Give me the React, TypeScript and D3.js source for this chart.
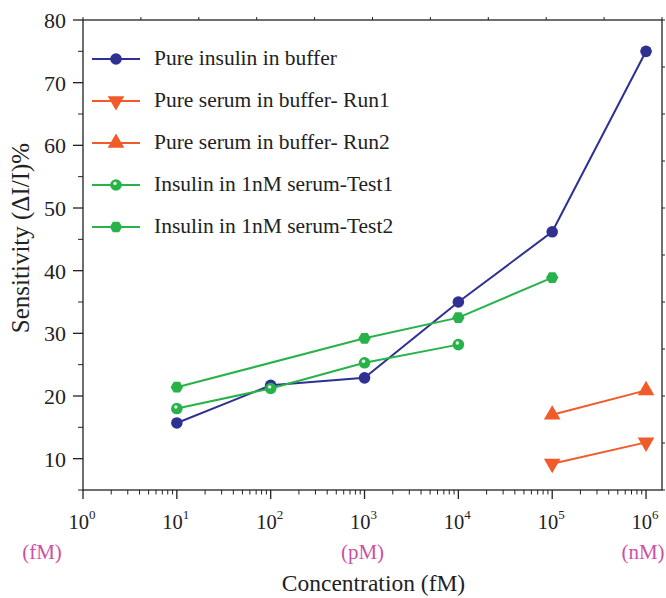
import React from 'react';
import * as d3 from 'd3';

// concentrations in fM
const concAll = [1e1, 1e2, 1e3, 1e4, 1e5, 1e6];
const insulinBuffer = [15.7, 21.7, 22.9, 35.0, 46.2, 75.0];
const serumConc = [1e5, 1e6];
const serumRun1 = [9.2, 12.6];
const serumRun2 = [17.0, 20.9];
const test1Conc = [1e1, 1e2, 1e3, 1e4];
const serumTest1 = [18.0, 21.2, 25.3, 28.2];
const test2Conc = [1e1, 1e3, 1e4, 1e5];
const serumTest2 = [21.4, 29.2, 32.5, 38.9];

const majorExp = [0, 1, 2, 3, 4, 5, 6];
const yMajor = [10, 20, 30, 40, 50, 60, 70, 80];
const unitLabels = [
  { exp: 0, text: '(fM)', shift: -41 },
  { exp: 3, text: '(pM)', shift: -2 },
  { exp: 6, text: '(nM)', shift: -3 },
];

const BLUE = '#2e3192';
const ORANGE = '#f15a29';
const GREEN = '#27b24a';
const PINK = '#cf4fa6';
const FONT = '"Liberation Serif", "Times New Roman", serif';

const W = 666;
const H = 598;
const margin = { top: 20, right: 4, bottom: 108, left: 83 };

type Kind = 'circle' | 'down' | 'up' | 'ball' | 'hex';

const series: { name: string; xs: number[]; ys: number[]; color: string; kind: Kind }[] = [
  { name: 'Pure insulin in buffer', xs: concAll, ys: insulinBuffer, color: BLUE, kind: 'circle' },
  { name: 'Pure serum in buffer- Run1', xs: serumConc, ys: serumRun1, color: ORANGE, kind: 'down' },
  { name: 'Pure serum in buffer- Run2', xs: serumConc, ys: serumRun2, color: ORANGE, kind: 'up' },
  { name: 'Insulin in 1nM serum-Test1', xs: test1Conc, ys: serumTest1, color: GREEN, kind: 'ball' },
  { name: 'Insulin in 1nM serum-Test2', xs: test2Conc, ys: serumTest2, color: GREEN, kind: 'hex' },
];

function hexPath(r: number) {
  const pts = d3.range(6).map((i) => {
    const a = (Math.PI / 3) * i;
    return [r * Math.cos(a), r * Math.sin(a)];
  });
  return 'M' + pts.map((p) => p.join(',')).join('L') + 'Z';
}

function Marker({ kind, color, x, y }: { kind: Kind; color: string; x: number; y: number }) {
  const t = `translate(${x},${y})`;
  if (kind === 'circle') return <circle cx={x} cy={y} r={5.8} fill={color} />;
  if (kind === 'down')
    return <path transform={t + ' rotate(180)'} d={d3.symbol(d3.symbolTriangle, 120)() || ''} fill={color} />;
  if (kind === 'up')
    return <path transform={t} d={d3.symbol(d3.symbolTriangle, 120)() || ''} fill={color} />;
  if (kind === 'ball')
    return (
      <g transform={t}>
        <circle r={5.8} fill={color} />
        <circle cx={-1} cy={-1.6} r={1.7} fill="#e8f7ea" />
      </g>
    );
  return <path transform={t} d={hexPath(6.2)} fill={color} />;
}

export default function App() {
  const x = d3
    .scaleLog()
    .domain([1, Math.pow(10, 6.17)])
    .range([margin.left, W - margin.right]);
  const y = d3
    .scaleLinear()
    .domain([5, 80])
    .range([H - margin.bottom, margin.top]);
  const [x0, x1] = x.range();
  const [y0, y1] = y.range();

  const minorX: number[] = [];
  majorExp.slice(0, -1).forEach((e) => {
    for (let k = 2; k <= 9; k++) minorX.push(k * Math.pow(10, e));
  });
  const minorY = d3.range(5, 80, 10);
  const frameTicks = d3.range(0, 11).map((i) => i / 10);

  const line = d3
    .line<[number, number]>()
    .x((d) => x(d[0]))
    .y((d) => y(d[1]));

  return (
    <svg width={W} height={H} style={{ position: 'absolute', left: 0, top: 0 }} fontFamily={FONT}>
      <rect width={W} height={H} fill="#fff" />
      {/* frame */}
      <rect x={x0} y={y1} width={x1 - x0} height={y0 - y1} fill="none" stroke="#222" strokeWidth={1.3} />
      {frameTicks.map((f) => (
        <line key={'t' + f} x1={x0 + f * (x1 - x0)} x2={x0 + f * (x1 - x0)} y1={y1} y2={y1 - 3} stroke="#222" />
      ))}
      {frameTicks.map((f) => (
        <line key={'r' + f} x1={x1} x2={x1 + 3} y1={y1 + f * (y0 - y1)} y2={y1 + f * (y0 - y1)} stroke="#222" />
      ))}
      {/* x axis ticks */}
      {majorExp.map((e) => (
        <g key={'xm' + e}>
          <line x1={x(Math.pow(10, e))} x2={x(Math.pow(10, e))} y1={y0} y2={y0 + 9} stroke="#222" strokeWidth={1.3} />
          <text x={x(Math.pow(10, e)) - 1} y={y0 + 39} fontSize={20.5} textAnchor="middle" fill="#222">
            10
            <tspan dy={-10} fontSize={13}>
              {e}
            </tspan>
          </text>
        </g>
      ))}
      {minorX.map((v) => (
        <line key={'xn' + v} x1={x(v)} x2={x(v)} y1={y0} y2={y0 + 4.5} stroke="#222" />
      ))}
      {unitLabels.map((u) => (
        <text key={u.text} x={x(Math.pow(10, u.exp)) + u.shift} y={y0 + 69} fontSize={21} textAnchor="middle" fill={PINK}>
          {u.text}
        </text>
      ))}
      <text x={(x0 + x1) / 2 + 1} y={y0 + 101} fontSize={23.5} textAnchor="middle" fill="#222">
        Concentration (fM)
      </text>
      {/* y axis ticks */}
      {yMajor.map((v) => (
        <g key={'ym' + v}>
          <line x1={x0 - 10} x2={x0} y1={y(v)} y2={y(v)} stroke="#222" strokeWidth={1.3} />
          <text x={x0 - 17} y={y(v) + 8} fontSize={22} textAnchor="end" fill="#222">
            {v}
          </text>
        </g>
      ))}
      {minorY.map((v) => (
        <line key={'yn' + v} x1={x0 - 5} x2={x0} y1={y(v)} y2={y(v)} stroke="#222" />
      ))}
      <text
        transform={`translate(29,${(y0 + y1) / 2 - 17}) rotate(-90)`}
        fontSize={25}
        textAnchor="middle"
        fill="#222"
      >
        Sensitivity (ΔI/I)%
      </text>
      {/* series */}
      {series.map((s) => {
        const pts = s.xs.map((v, i) => [v, s.ys[i]] as [number, number]);
        return (
          <g key={s.name}>
            <path d={line(pts) || ''} fill="none" stroke={s.color} strokeWidth={2} />
            {pts.map((p, i) => (
              <Marker key={i} kind={s.kind} color={s.color} x={x(p[0])} y={y(p[1])} />
            ))}
          </g>
        );
      })}
      {/* legend */}
      {series.map((s, i) => {
        const ly = 59 + i * 42;
        return (
          <g key={'lg' + s.name}>
            <line x1={92} x2={140} y1={ly} y2={ly} stroke={s.color} strokeWidth={2} />
            <Marker kind={s.kind} color={s.color} x={116} y={ly} />
            <text x={154} y={ly + 6} fontSize={21.5} fill="#222">
              {s.name}
            </text>
          </g>
        );
      })}
    </svg>
  );
}
